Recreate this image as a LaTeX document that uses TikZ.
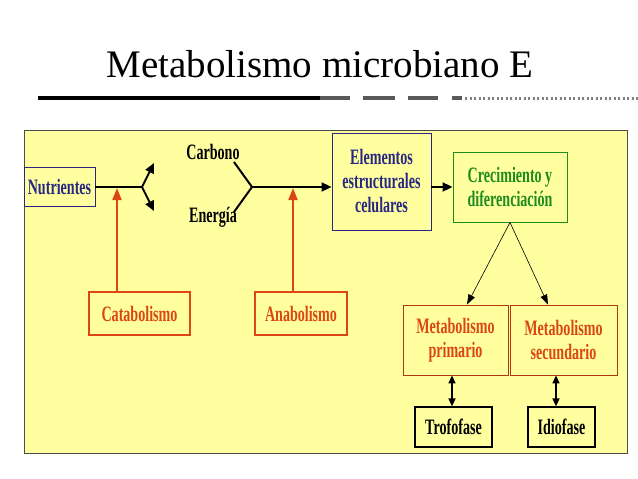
\documentclass[tikz,border=0pt]{standalone}
\usepackage{fontspec}
\setmainfont{Liberation Serif}
\usetikzlibrary{arrows.meta}
\definecolor{pan}{RGB}{255,255,160}
\definecolor{navy}{RGB}{40,40,130}
\definecolor{org}{RGB}{220,70,20}
\definecolor{grn}{RGB}{30,140,30}
\newcommand{\nw}[1]{\scalebox{0.64}[1]{#1}}
\tikzset{
 bx/.style={draw=#1,line width=0.9pt,align=center,inner sep=0pt,font=\bfseries\fontsize{22}{24}\selectfont},
 lbl/.style={font=\bfseries\fontsize{22}{24}\selectfont},
 ar/.style={line width=2pt,-{Triangle[length=10pt,width=9pt]}},
 oar/.style={org,line width=2pt,-{Triangle[length=12pt,width=9pt]}},
 thin/.style={line width=0.6pt,-{Triangle[length=10pt,width=7pt]}},
 dbl/.style={line width=1.6pt,{Triangle[length=8pt,width=7pt]}-{Triangle[length=8pt,width=7pt]}}
}
\begin{document}
\begin{tikzpicture}[x=1pt,y=-1pt]
\useasboundingbox (0,0) rectangle (638,479);
\fill[white] (0,0) rectangle (638,479);
\node (title) at (320,64) {\fontsize{39}{42}\selectfont Metabolismo microbiano E};
\draw[line width=4.5pt] (38,98) -- (320,98);
\draw[gray!70!black,line width=4pt] (320,98) -- (350,98) (363,98)--(395,98) (408,98)--(438,98) (452,98)--(462,98);
\draw[gray,line width=3pt,dash pattern=on 2pt off 2.5pt] (465,98) -- (638,98);
\draw[fill=pan,draw=black!70,line width=0.8pt] (24,130) rectangle (627,453);
\node[bx=navy,text=navy,minimum width=71,minimum height=39] (nut) at (59.5,187) {\nw{Nutrientes}};
\coordinate (f1) at (142,187);
\node[lbl] (car) at (213,152) {\nw{Carbono}};
\node[lbl] (ene) at (213,217) {\nw{Energía}};
\coordinate (a1) at (154,163);
\coordinate (a2) at (154,211);
\coordinate (j) at (252,187);
\coordinate (c1) at (234,162);
\coordinate (e1) at (234,212);
\node[bx=navy,text=navy,minimum width=99,minimum height=97] (ele) at (381.5,181.5) {\nw{\parbox{45mm}{\centering Elementos\\estructurales\\celulares}}};
\node[bx=grn,text=grn,minimum width=114,minimum height=70] (cre) at (510,187) {\nw{\parbox{50mm}{\centering Crecimiento y\\diferenciación}}};
\node[bx=org,text=org,line width=1.8pt,minimum width=101,minimum height=43] (cat) at (139.5,313.5) {\nw{Catabolismo}};
\node[bx=org,text=org,line width=1.8pt,minimum width=92,minimum height=43] (ana) at (301,313.5) {\nw{Anabolismo}};
\node[bx=org!80!black,text=org,minimum width=105,minimum height=70] (pri) at (455.5,340) {\nw{\parbox{45mm}{\centering Metabolismo\\primario}}};
\node[bx=org!80!black,text=org,minimum width=107,minimum height=70] (sec) at (563.5,340) {\nw{\parbox{45mm}{\centering Metabolismo\\secundario}}};
\node[bx=black,line width=1.2pt,minimum width=77,minimum height=40] (tro) at (453.5,427) {\nw{Trofofase}};
\node[bx=black,line width=1.2pt,minimum width=67,minimum height=40] (idi) at (561.5,427) {\nw{Idiofase}};
\draw[line width=2pt] (nut.east) -- (f1);
\draw[ar] (f1) -- (a1);
\draw[ar] (f1) -- (a2);
\draw[line width=2pt] (c1) -- (j) -- (e1);
\draw[ar] (j) -- (ele.west |- j);
\draw[ar] (ele.east |- j) -- (cre.west);
\draw[oar] (cat.north -| 117,0) -- (117,188);
\draw[oar] (ana.north -| 293,0) -- (293,188);
\draw[thin] (cre.south) -- (pri.north -| 467,0);
\draw[thin] (cre.south) -- (sec.north -| 548,0);
\draw[dbl] (pri.south -| 452,0) -- (tro.north -| 452,0);
\draw[dbl] (sec.south -| 556,0) -- (idi.north -| 556,0);
\end{tikzpicture}
\end{document}
